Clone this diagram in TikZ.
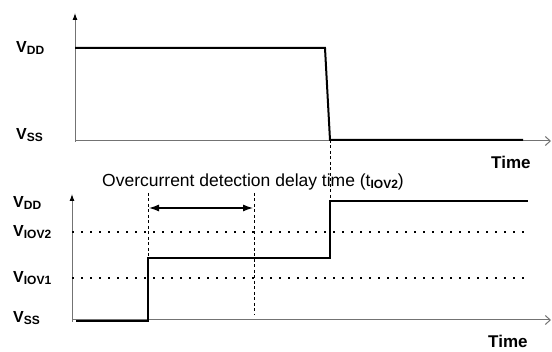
\documentclass[tikz,border=0pt]{standalone}
\usepackage{fontspec}
\setmainfont{Liberation Sans}
\usetikzlibrary{arrows.meta}

\newcommand{\lvlsub}[2]{#1\raisebox{-1.5pt}{\fontsize{12}{12}\selectfont #2}}

\begin{document}
\begin{tikzpicture}[x=1pt,y=-1pt,
    axis/.style={draw=black!55, line width=1pt},
    signal/.style={line width=2pt, line join=miter},
    level/.style={line width=1.8pt, dash pattern=on 1.8pt off 7.2pt},
    marker/.style={line width=0.9pt, dash pattern=on 3pt off 2.5pt},
    lbl/.style={anchor=base west, inner sep=0pt, font=\fontsize{16}{16}\selectfont\bfseries},
    timelbl/.style={anchor=base west, inner sep=0pt, font=\fontsize{17}{17}\selectfont\bfseries}]
  \useasboundingbox (0,0) rectangle (552,352);

  % Upper plot: supply voltage
  \coordinate (topO) at (75,142);
  \coordinate (topY) at (75,13);
  \coordinate (topX) at (551,141);
  \draw[axis, -{Latex[length=7pt,width=5pt,color=black]}] (topO) -- (topY);
  \draw[axis, -{Straight Barb[length=5pt,width=9pt]}] (75,141) -- (topX);

  \coordinate (fallA) at (325,48);
  \coordinate (fallB) at (330,140);
  \draw[signal] (75,48) -- (fallA) -- (fallB) -- (523,140);

  \node[lbl] (vddtop) at (16,53) {\lvlsub{V}{DD}};
  \node[lbl] (vsstop) at (16,140) {\lvlsub{V}{SS}};
  \node[timelbl] (timetop) at (491,169) {Time};

  % Lower plot: output voltage
  \coordinate (botO) at (72,322);
  \coordinate (botY) at (72,194);
  \coordinate (botX) at (551,320);
  \draw[axis, -{Latex[length=7pt,width=5pt,color=black]}] (botO) -- (botY);
  \draw[axis, -{Straight Barb[length=5pt,width=9pt]}] (72,320) -- (botX);

  % Detection levels
  \draw[level] (72,232) -- (526,232);
  \draw[level] (72,278) -- (526,278);

  \coordinate (stepA) at (148,258);
  \coordinate (stepB) at (330,201);
  \draw[signal] (76,321) -- (148,321) -- (stepA) -- (330,258) -- (stepB) -- (528,201);

  % Delay markers
  \coordinate (dlyL) at (148,193);
  \coordinate (dlyR) at (254,193);
  \draw[marker] (dlyL) -- (stepA);
  \draw[marker] (dlyR) -- (254,315);
  \draw[marker] (fallB) -- (stepB);
  \draw[line width=1.2pt, {Latex[length=10pt,width=7pt]}-{Latex[length=10pt,width=7pt]}]
    (149,208) -- (253,208);

  \node[anchor=base west, inner sep=0pt, font=\fontsize{17.5}{17.5}\selectfont] (delaytxt) at (102,187)
    {Overcurrent detection delay time (t\raisebox{-2pt}{\fontsize{12}{12}\selectfont\bfseries IOV2})};

  \node[lbl] (vddbot) at (13,208) {\lvlsub{V}{DD}};
  \node[lbl] (viov2) at (13,237) {\lvlsub{V}{IOV2}};
  \node[lbl] (viov1) at (13,283) {\lvlsub{V}{IOV1}};
  \node[lbl] (vssbot) at (13,323) {\lvlsub{V}{SS}};
  \node[timelbl] (timebot) at (488,348) {Time};
\end{tikzpicture}
\end{document}
